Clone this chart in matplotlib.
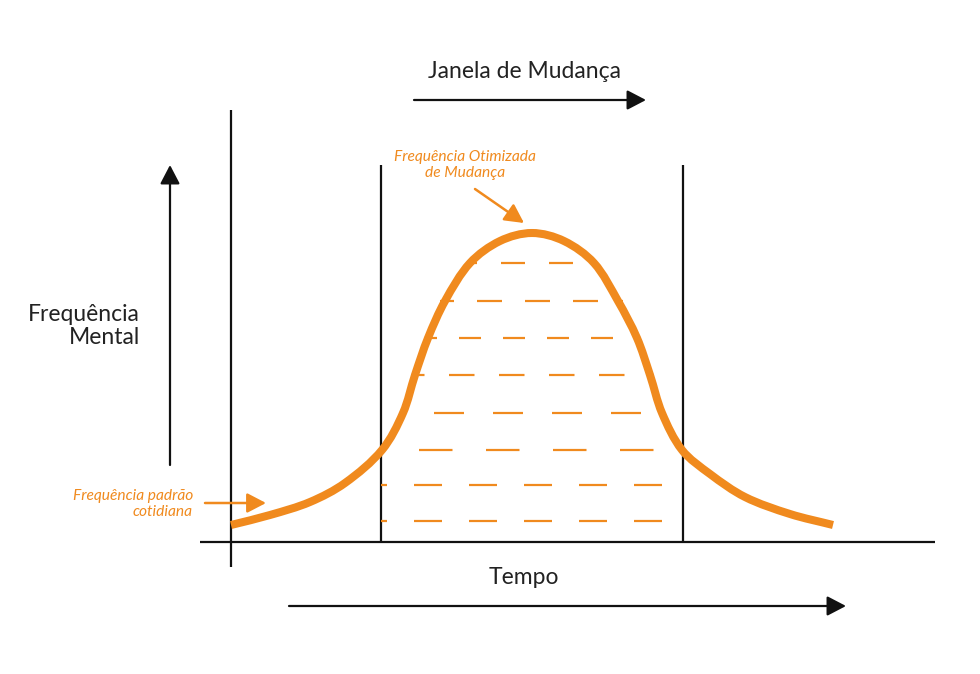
import math
import matplotlib
matplotlib.use("Agg")
import matplotlib.pyplot as plt
from matplotlib.patches import FancyArrowPatch, PathPatch
from matplotlib.path import Path

plt.rcParams['font.family'] = ['Lato', 'DejaVu Sans']
plt.rcParams['lines.scale_dashes'] = False

# ---- data (diagram coordinates) ----
curve_x = [231, 270, 310, 345, 382, 403, 415, 428, 445, 470, 500, 532,
           564, 594, 618, 637, 650, 662, 682, 710, 745, 790, 833]
curve_y = [525, 515, 502, 483, 450, 413, 375, 338, 301, 263, 241, 233,
           241, 263, 301, 338, 375, 413, 450, 474, 497, 514, 525]

rows_y = [263, 301, 338, 375, 413, 450, 485, 521]
rows_xl = [466, 440, 424, 411, 399, 381, 381, 381]
rows_xr = [597, 623, 641, 654, 666, 683, 683, 683]

window_x = [381, 683]
title_text = "Janela de Mudança"
xlabel_text = "Tempo"
ylabel_text = "Frequência\nMental"
peak_text = "Frequência Otimizada\nde Mudança"
base_text = "Frequência padrão\ncotidiana"

# ---- style ----
ORANGE = '#F08A1E'
BLACK = '#111111'
TXT = '#222222'
PX = 0.72  # points per pixel at 100 dpi
# per row: dash length, gap length, start of a full dash (pixels)
row_dash = [(24, 24, 501), (25, 23, 477), (22, 22, 459), (25.5, 24.5, 449),
            (30, 29, 434), (33.5, 33.5, 419), (28, 27, 414), (28, 27, 414)]

fig = plt.figure(figsize=(9.8, 6.74), dpi=100)
ax = fig.add_axes([0, 0, 1, 1])
ax.set_xlim(0, 980)
ax.set_ylim(674, 0)
ax.axis('off')

# axes lines
ax.plot([200, 935], [542, 542], color=BLACK, lw=1.6, solid_capstyle='butt')
ax.plot([231, 231], [110, 567], color=BLACK, lw=1.6, solid_capstyle='butt')
for wx in window_x:
    ax.plot([wx, wx], [165, 542], color=BLACK, lw=1.6, solid_capstyle='butt')

# dashed levels
for y, xl, xr, (d, g, x0) in zip(rows_y, rows_xl, rows_xr, row_dash):
    P = d + g
    off = (P - ((x0 - xl) % P)) % P
    ax.plot([xl, xr], [y, y], color=ORANGE, lw=1.6, dash_capstyle='butt',
            linestyle=(off * PX, (d * PX, g * PX)), zorder=2)

# smooth curve through the read points (chord-length Catmull-Rom -> Bezier path)
pts = list(zip(curve_x, curve_y))
n = len(pts)

def dist(a, b):
    return math.hypot(b[0] - a[0], b[1] - a[1])

tans = []
for i in range(n):
    a = pts[max(i - 1, 0)]
    b = pts[min(i + 1, n - 1)]
    s = dist(a, pts[i]) + dist(pts[i], b)
    tans.append(((b[0] - a[0]) / s, (b[1] - a[1]) / s))

verts = [pts[0]]
codes = [Path.MOVETO]
for i in range(n - 1):
    p1, p2 = pts[i], pts[i + 1]
    L = dist(p1, p2) / 3.0
    c1 = (p1[0] + tans[i][0] * L, p1[1] + tans[i][1] * L)
    c2 = (p2[0] - tans[i + 1][0] * L, p2[1] - tans[i + 1][1] * L)
    verts += [c1, c2, p2]
    codes += [Path.CURVE4] * 3
ax.add_patch(PathPatch(Path(verts, codes), fill=False, edgecolor=ORANGE,
                       lw=5.8, capstyle='butt', joinstyle='round', zorder=3))

def arrow(p0, p1, color, lw):
    a = FancyArrowPatch(p0, p1, arrowstyle='-|>,head_length=1.15,head_width=0.6',
                        mutation_scale=10, color=color, lw=lw,
                        shrinkA=0, shrinkB=0, zorder=4)
    ax.add_patch(a)

arrow((170, 465), (170, 165), BLACK, 1.6)
arrow((289, 606), (846, 606), BLACK, 1.6)
arrow((414, 100), (646, 100), BLACK, 1.6)
arrow((205, 503), (266, 503), ORANGE, 1.8)
arrow((475, 189), (524, 223), ORANGE, 1.8)

ax.text(524, 71, title_text, fontsize=16.5, color=TXT, ha='center', va='center')
ax.text(524, 578, xlabel_text, fontsize=16.5, color=TXT, ha='center', va='center')
ax.text(140, 326, ylabel_text, fontsize=16.5, color=TXT, ha='right', va='center',
        multialignment='right', linespacing=1.12)
ax.text(465, 165, peak_text, fontsize=11.2, color=ORANGE, style='italic',
        ha='center', va='center', multialignment='center', linespacing=1.15)
ax.text(193, 504, base_text, fontsize=11.2, color=ORANGE, style='italic',
        ha='right', va='center', multialignment='right', linespacing=1.15)

fig.savefig('out.png', dpi=100, facecolor='white')
